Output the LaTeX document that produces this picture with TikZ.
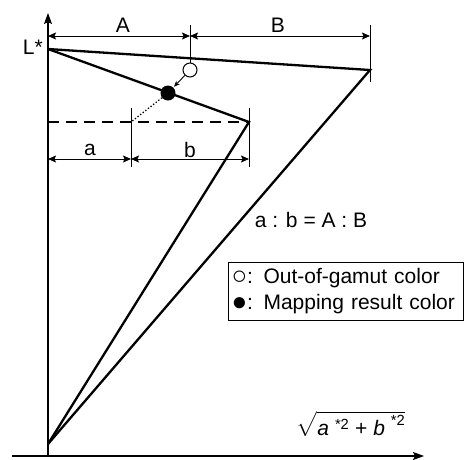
\documentclass[tikz,border=0pt]{standalone}
\usepackage{amsmath}
\usepackage{fontspec}
\setmainfont{Liberation Sans}
\usetikzlibrary{arrows.meta,positioning,calc}
\newcommand{\legsym}[1]{\raisebox{-1pt}{\fontsize{26}{26}\selectfont #1}}
\tikzset{
  axisline/.style={-{Stealth[length=11pt,width=8pt,inset=2pt]}, line width=1.2pt},
  gamutline/.style={line width=2.3pt, line join=miter},
  cuspline/.style={line width=2.3pt, dash pattern=on 11pt off 7pt},
  dimline/.style={{Stealth[length=8pt,width=7pt,inset=1.5pt]}-{Stealth[length=8pt,width=7pt,inset=1.5pt]}, line width=1pt},
  tickline/.style={line width=1pt},
  maparrow/.style={-{Stealth[length=6pt,width=5pt]}, line width=0.9pt, shorten >=1pt},
  mapdotted/.style={dotted, line width=1.3pt},
  labeltext/.style={font=\fontsize{21}{25}\selectfont, inner sep=0pt},
  outdot/.style={circle, draw, line width=1pt, fill=white, minimum size=14pt, inner sep=0pt},
  mapdot/.style={circle, fill=black, minimum size=15pt, inner sep=0pt},
  legendbox/.style={draw, line width=1pt, align=left, anchor=north west, minimum width=235pt, minimum height=54pt, inner xsep=3pt, inner ysep=6pt, text width=229pt, font=\fontsize{21}{26}\selectfont}
}
\begin{document}
\begin{tikzpicture}[x=1pt,y=-1pt]
  \useasboundingbox (0,0) rectangle (464,459);
  % axes
  \coordinate (origin) at (48,456);
  \coordinate (xstart) at (12,456);
  \coordinate (xend) at (424,456);
  \coordinate (ytop) at (48,13);
  \draw[axisline] (xstart) -- (xend);
  \draw[axisline] (origin) -- (ytop);
  % gamut boundaries
  \coordinate (white) at (48,49);
  \coordinate (black) at (48,444);
  \coordinate (outcusp) at (370,70);
  \coordinate (incusp) at (249,122);
  \coordinate (cuspleft) at (48,122);
  \draw[gamutline] (white) -- (outcusp) -- (black);
  \draw[gamutline] (white) -- (incusp) -- (black);
  \draw[cuspline] (cuspleft) -- (incusp);
  % colours
  \node[outdot] (outcol) at (190,70) {};
  \node[mapdot] (mapcol) at (168,93) {};
  \coordinate (split) at (131,122);
  \draw[maparrow] (outcol) -- (mapcol);
  \draw[mapdotted] (mapcol) -- (split);
  % dimension ticks
  \coordinate (tickA) at (190,25);
  \coordinate (tickB) at (370,25);
  \coordinate (tickBend) at (370,82);
  \coordinate (ticka) at (131,108);
  \coordinate (tickaend) at (131,167);
  \coordinate (tickb) at (249,108);
  \coordinate (tickbend) at (249,167);
  \draw[tickline] (tickA) -- (outcol.north);
  \draw[tickline] (tickB) -- (tickBend);
  \draw[tickline] (ticka) -- (tickaend);
  \draw[tickline] (tickb) -- (tickbend);
  % dimension arrows
  \coordinate (dimAl) at (48,36);
  \coordinate (dimAr) at (190,36);
  \coordinate (dimBr) at (370,36);
  \coordinate (dimal) at (48,159);
  \coordinate (dimar) at (131,159);
  \coordinate (dimbr) at (249,159);
  \draw[dimline] (dimAl) -- (dimAr);
  \draw[dimline] (dimAr) -- (dimBr);
  \draw[dimline] (dimal) -- (dimar);
  \draw[dimline] (dimar) -- (dimbr);
  % labels
  \node[labeltext] (labA) at (123,25) {A};
  \node[labeltext] (labB) at (278,25) {B};
  \node[labeltext] (laba) at (90,150) {a};
  \node[labeltext] (labb) at (190,150) {b};
  \node[labeltext, anchor=east] (labL) at (43,47) {L*};
  \node[labeltext] (ratio) at (311,220) {a : b = A : B};
  \node[labeltext] (chroma) at (351,424) {$\sqrt{\text{\itshape a\,}^{\,\text{*2}}\text{ + }\text{\itshape b\,}^{\,\text{*2}}}$};
  % legend
  \node[legendbox] (legend) at (228,262) {\legsym{○}: Out-of-gamut color\\\legsym{●}: Mapping result color};
\end{tikzpicture}
\end{document}
